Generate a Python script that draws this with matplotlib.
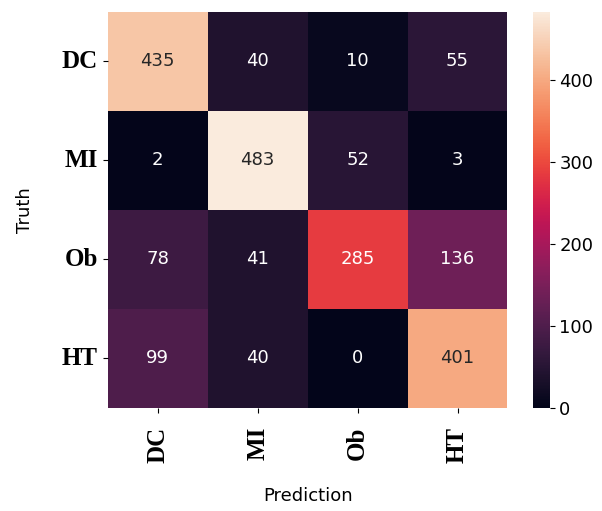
import numpy as np
import matplotlib
matplotlib.use('Agg')
import matplotlib.pyplot as plt
import seaborn as sns

LABELS = ['DC', 'MI', 'Ob', 'HT']
CM = [
    [435, 40, 10, 55],
    [2, 483, 52, 3],
    [78, 41, 285, 136],
    [99, 40, 0, 401],
]

fig = plt.figure(figsize=(6.02, 5.11), dpi=100)
ax = fig.add_axes([0.179, 0.2016, 0.664, 0.775])
cax = fig.add_axes([0.885, 0.2016, 0.028, 0.775])

sns.heatmap(np.array(CM), annot=True, fmt='d', cmap='rocket', ax=ax, cbar_ax=cax,
            annot_kws={'fontsize': 13})

ax.set_xticklabels(LABELS, rotation=90, fontsize=18, fontweight='bold',
                   family='Liberation Serif')
ax.set_yticklabels(LABELS, rotation=0, fontsize=18, fontweight='bold',
                   family='Liberation Serif')
ax.tick_params(axis='x', pad=10)
ax.set_xlabel('Prediction', fontsize=13)
ax.set_ylabel('Truth', fontsize=13)
ax.xaxis.set_label_coords(0.5, -0.2)
ax.yaxis.set_label_coords(-0.185, 0.5)
cax.tick_params(labelsize=13)
cax.set_yticks([0, 100, 200, 300, 400])

fig.savefig('out.png', dpi=100)
